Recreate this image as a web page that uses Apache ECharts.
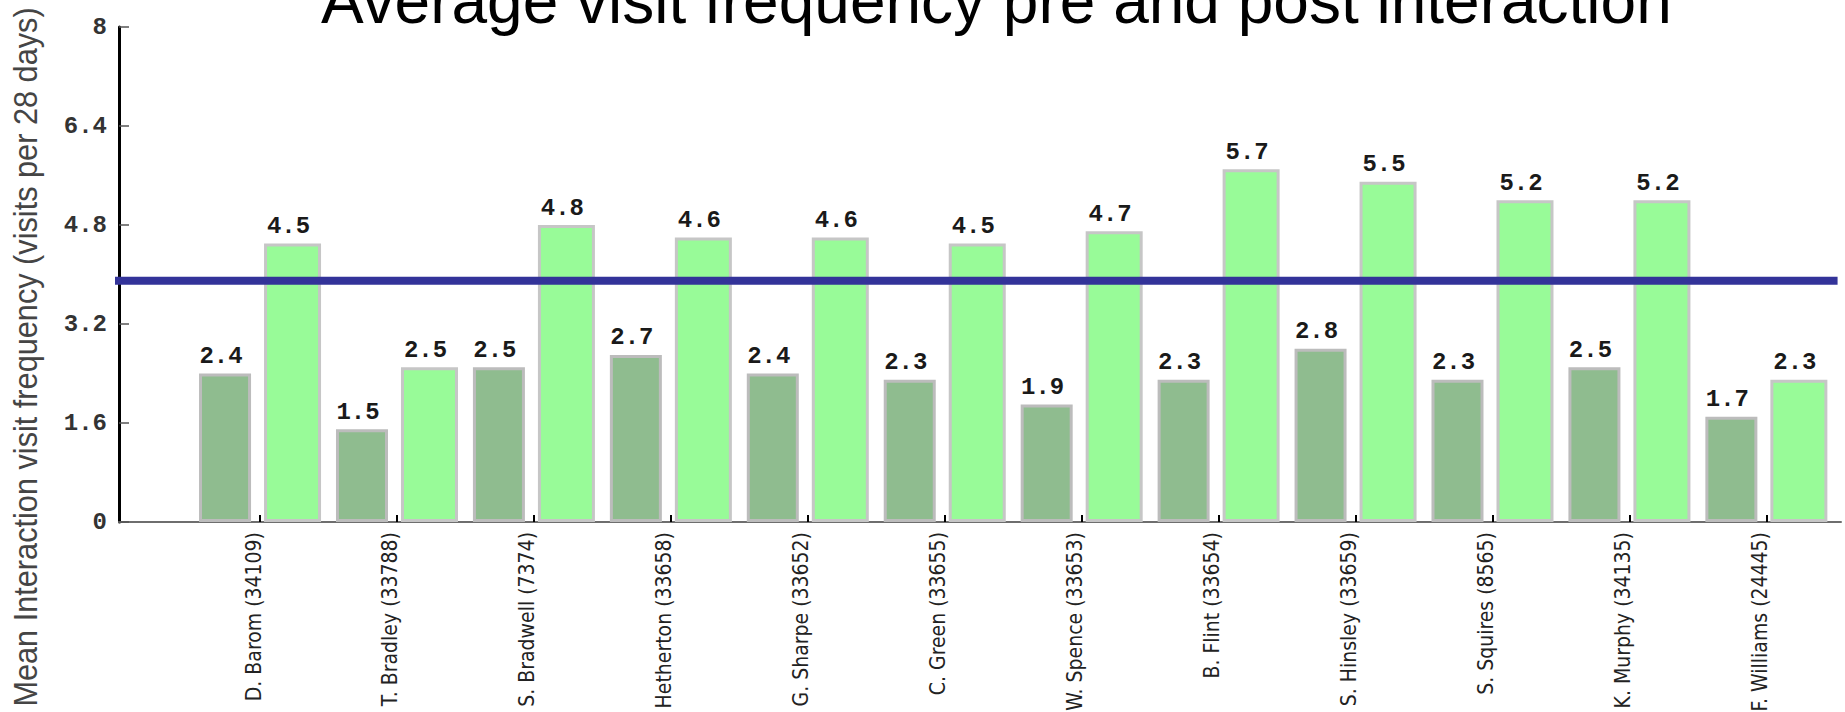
<!DOCTYPE html>
<html>
<head>
<meta charset="utf-8">
<title>Average visit frequency pre and post interaction</title>
<script src="https://cdn.jsdelivr.net/npm/echarts@6/dist/echarts.min.js"></script>
<style>
  html, body { margin: 0; padding: 0; background: #ffffff; }
  #chart { width: 1845px; height: 712px; }
</style>
</head>
<body>
<div id="chart"></div>
<script>
// Patients (with patient number) along the horizontal axis
const categories = [
  'D. Barom (34109)', 'T. Bradley (33788)', 'S. Bradwell (7374)', 'Hetherton (33658)',
  'G. Sharpe (33652)', 'C. Green (33655)', 'W. Spence (33653)', 'B. Flint (33654)',
  'S. Hinsley (33659)', 'S. Squires (8565)', 'K. Murphy (34135)', 'F. Williams (24445)'
];

// Mean visits per 28 days before and after the interaction
const preInteraction  = [2.4, 1.5, 2.5, 2.7, 2.4, 2.3, 1.9, 2.3, 2.8, 2.3, 2.5, 1.7];
const postInteraction = [4.5, 2.5, 4.8, 4.6, 4.6, 4.5, 4.7, 5.7, 5.5, 5.2, 5.2, 2.3];

// Reference level drawn as the horizontal blue line, and where it starts/ends on the x scale
const referenceLevel = 3.9;
const referenceSpan = [-1.095, 11.52];

// Value-axis ticks
const yTicks = [0, 1.6, 3.2, 4.8, 6.4, 8];

const chartTitle = 'Average visit frequency pre and post interaction';
const yAxisTitle = 'Mean Interaction visit frequency (visits per 28 days)';

const categoryIndex = categories.map((_, i) => i);
const toPoints = values => values.map((v, i) => [i, v]);

const sansFont = "'Liberation Sans', Arial, sans-serif";
const condensedFont = "'DejaVu Sans Condensed', 'Liberation Sans', sans-serif";
const monoFont = "'Liberation Mono', 'DejaVu Sans Mono', monospace";

const chart = echarts.init(document.getElementById('chart'), null, { renderer: 'svg' });

const valueLabel = {
  show: true,
  position: 'top',
  distance: 5,
  offset: [-4, 0],
  fontFamily: monoFont,
  fontSize: 24,
  fontWeight: 'bold',
  color: '#1a1a1a',
  formatter: p => p.value[1].toFixed(1)
};

chart.setOption({
  backgroundColor: '#ffffff',
  animation: false,
  title: {
    text: chartTitle,
    left: 321,
    top: -31,
    padding: 0,
    textStyle: {
      fontFamily: sansFont,
      fontSize: 64,
      fontWeight: 'normal',
      color: '#000'
    }
  },
  graphic: [{
    type: 'text',
    x: 26,
    y: 357,
    rotation: Math.PI / 2,
    scaleX: 0.93,
    scaleY: 1,
    silent: true,
    style: {
      text: yAxisTitle,
      fontFamily: sansFont,
      fontSize: 33,
      fill: '#454545',
      align: 'center',
      verticalAlign: 'middle'
    }
  }],
  grid: { left: 119, right: 4, top: 27, bottom: 190, containLabel: false, outerBoundsMode: 'none' },
  xAxis: {
    type: 'value',
    min: -1.03,
    max: 11.545,
    splitLine: { show: false },
    axisLine: { show: true, onZero: false, lineStyle: { color: '#6e6e6e', width: 2 } },
    axisTick: {
      show: true,
      inside: true,
      length: 7,
      customValues: categoryIndex,
      lineStyle: { color: '#000', width: 2 }
    },
    axisLabel: {
      customValues: categoryIndex,
      formatter: v => categories[Math.round(v)] || '',
      rotate: 90,
      margin: 10,
      verticalAlign: 'bottom',
      lineHeight: 13,
      fontFamily: condensedFont,
      fontSize: 21,
      color: '#222'
    }
  },
  yAxis: {
    type: 'value',
    min: yTicks[0],
    max: yTicks[yTicks.length - 1],
    interval: yTicks[1] - yTicks[0],
    splitLine: { show: false },
    axisLine: { show: true, onZero: false, lineStyle: { color: '#000', width: 3 } },
    axisTick: { show: true, inside: true, length: 10, lineStyle: { color: '#555', width: 1.5 } },
    axisLabel: {
      margin: 12,
      fontFamily: monoFont,
      fontSize: 24,
      fontWeight: 'bold',
      color: '#333',
      formatter: v => String(Math.round(v * 10) / 10)
    }
  },
  series: [
    {
      name: 'Pre interaction',
      type: 'bar',
      data: toPoints(preInteraction),
      barWidth: 52,
      barGap: '25%',
      itemStyle: { color: '#8fbc8f', borderColor: '#bcbcbc', borderWidth: 3 },
      label: valueLabel,
      emphasis: { disabled: true }
    },
    {
      name: 'Post interaction',
      type: 'bar',
      data: toPoints(postInteraction),
      barWidth: 57,
      barGap: '25%',
      itemStyle: { color: '#98fb98', borderColor: '#c6c6c6', borderWidth: 3 },
      label: valueLabel,
      emphasis: { disabled: true }
    },
    {
      name: 'Reference level',
      type: 'line',
      data: referenceSpan.map(x => [x, referenceLevel]),
      clip: false,
      silent: true,
      symbol: 'none',
      z: 5,
      lineStyle: { color: '#333399', width: 8, cap: 'butt' },
      emphasis: { disabled: true }
    }
  ]
});
</script>
</body>
</html>
